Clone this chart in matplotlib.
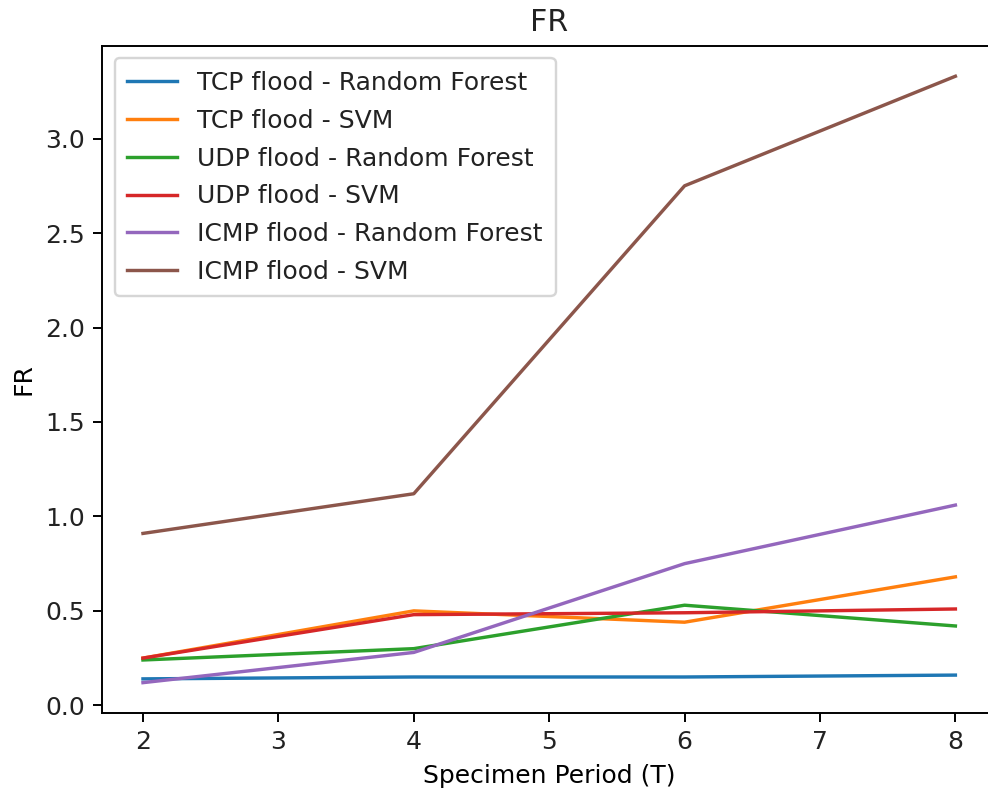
import matplotlib
matplotlib.use('Agg')
import matplotlib.pyplot as plt

periods = [2, 4, 6, 8]

tcp_rf = [0.14, 0.15, 0.15, 0.16]
tcp_svm = [0.25, 0.50, 0.44, 0.68]
udp_rf = [0.24, 0.30, 0.53, 0.42]
udp_svm = [0.25, 0.48, 0.49, 0.51]
icmp_rf = [0.12, 0.28, 0.75, 1.06]
icmp_svm = [0.91, 1.12, 2.75, 3.33]

labels = ['TCP flood - Random Forest', 'TCP flood - SVM',
          'UDP flood - Random Forest', 'UDP flood - SVM',
          'ICMP flood - Random Forest', 'ICMP flood - SVM']
series = [tcp_rf, tcp_svm, udp_rf, udp_svm, icmp_rf, icmp_svm]

plt.rcParams['font.size'] = 10.3
plt.rcParams['text.color'] = '#222222'
plt.rcParams['xtick.labelcolor'] = '#222222'
plt.rcParams['ytick.labelcolor'] = '#222222'

dpi = 175
fig = plt.figure(figsize=(988 / dpi, 796 / dpi), dpi=dpi)
# the right part of the axes runs past the image edge, like the reference
ax = fig.add_axes([0.1036, 0.1043, 0.9045, 0.838])

for vals, lab in zip(series, labels):
    ax.plot(periods, vals, label=lab, lw=1.4)

ax.set_title('FR')
ax.set_xlabel('Specimen Period (T)')
ax.set_ylabel('FR')
ax.legend(loc='upper left', labelspacing=0.55, borderpad=0.5)

fig.savefig('out.png', dpi=dpi)
